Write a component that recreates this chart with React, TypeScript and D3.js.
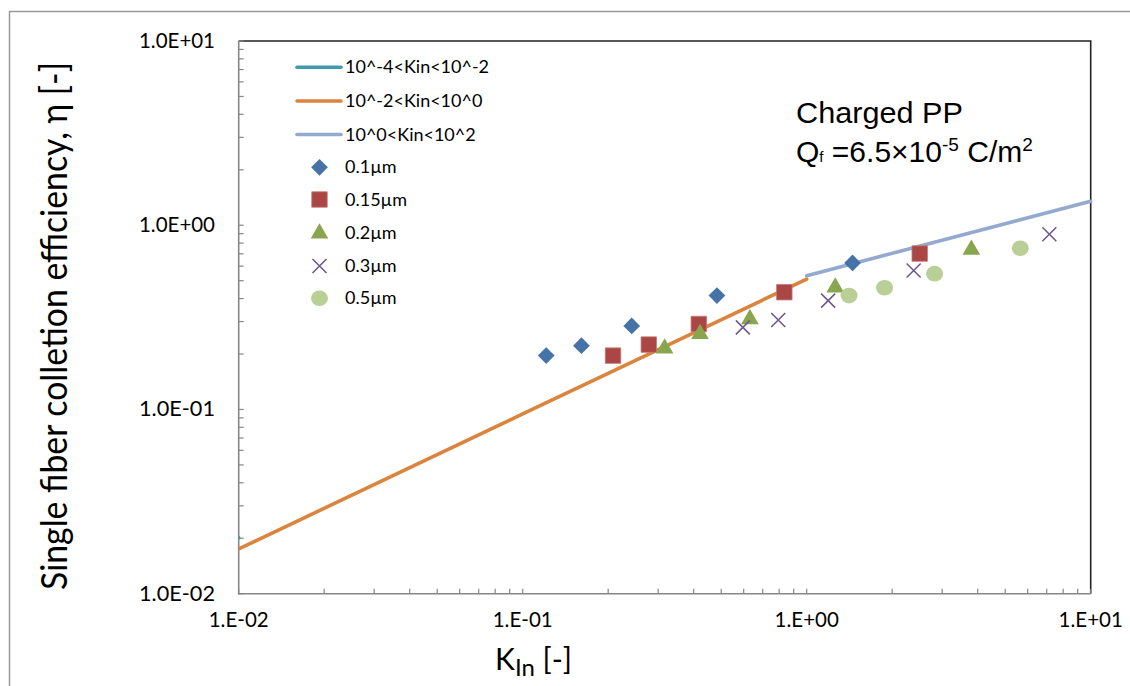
import React from "react";
import * as d3 from "d3";

// ---- data ----
const xTickValues = [0.01, 0.1, 1, 10];
const xTickLabels = ["1.E-02", "1.E-01", "1.E+00", "1.E+01"];
const yTickValues = [0.01, 0.1, 1, 10];
const yTickLabels = ["1.0E-02", "1.0E-01", "1.0E+00", "1.0E+01"];

// model lines
const lineLowKin = [1e-4, 0.01];
const lineLowEta = [0.003, 0.0201];
const lineMidKin = [0.01, 0.1, 1];
const lineMidEta = [0.0175, 0.0945, 0.51];
const lineHighKin = [1, 10];
const lineHighEta = [0.532, 1.35];

// measured points
const kin01 = [0.121, 0.161, 0.242, 0.483, 1.45];
const eta01 = [0.196, 0.222, 0.284, 0.415, 0.624];
const kin015 = [0.208, 0.278, 0.417, 0.834, 2.5];
const eta015 = [0.196, 0.225, 0.291, 0.433, 0.702];
const kin02 = [0.316, 0.421, 0.631, 1.26, 3.8];
const eta02 = [0.217, 0.26, 0.313, 0.465, 0.746];
const kin03 = [0.596, 0.794, 1.19, 2.38, 7.15];
const eta03 = [0.279, 0.306, 0.39, 0.568, 0.893];
const kin05 = [1.41, 1.88, 2.82, 5.65];
const eta05 = [0.415, 0.458, 0.546, 0.75];

const lineNames = ["10^-4<Kin<10^-2", "10^-2<Kin<10^0", "10^0<Kin<10^2"];
const pointNames = ["0.1µm", "0.15µm", "0.2µm", "0.3µm", "0.5µm"];

const C = {
  cyan: "#4198AF",
  orange: "#DB843D",
  lblue: "#93A9CF",
  diamond: "#4572A7",
  square: "#AA4643",
  tri: "#89A54E",
  x: "#71588F",
  circ: "#B9CF96",
};

const L = 238.7, R = 1090.7, T = 41, B = 593.7;
const FONT = "Lato, 'Open Sans', sans-serif";
const ARIAL = "'Liberation Sans', Arial, sans-serif";

function Marker({ kind, cx, cy }: { kind: string; cx: number; cy: number }) {
  if (kind === "diamond") {
    const p = d3.symbol(d3.symbolSquare, 140)();
    return <path d={p || ""} transform={`translate(${cx},${cy}) rotate(45)`} fill={C.diamond} />;
  }
  if (kind === "square") {
    const p = d3.symbol(d3.symbolSquare, 240)();
    return <path d={p || ""} transform={`translate(${cx},${cy})`} fill={C.square} stroke="#C47A78" strokeWidth={0.8} />;
  }
  if (kind === "tri") {
    const p = d3.symbol(d3.symbolTriangle, 135)();
    return <path d={p || ""} transform={`translate(${cx},${cy + 1})`} fill={C.tri} />;
  }
  if (kind === "x") {
    const s = 7;
    return (
      <path
        d={`M${-s},${-s}L${s},${s}M${-s},${s}L${s},${-s}`}
        transform={`translate(${cx},${cy})`}
        stroke={C.x}
        strokeWidth={1.6}
        fill="none"
      />
    );
  }
  return <ellipse cx={cx} cy={cy} rx={8.5} ry={7.8} fill={C.circ} />;
}

export default function App() {
  const x = d3.scaleLog().domain([0.01, 10]).range([L, R]);
  const y = d3.scaleLog().domain([0.01, 10]).range([B, T]);

  const line = d3
    .line<[number, number]>()
    .x((d) => x(d[0]))
    .y((d) => y(d[1]));
  const zip = (a: number[], b: number[]) => a.map((v, i) => [v, b[i]] as [number, number]);

  const minorX: number[] = [];
  const minorY: number[] = [];
  for (let e = -2; e < 1; e++) {
    for (let m = 1; m <= 9; m++) {
      minorX.push(m * Math.pow(10, e));
      minorY.push(m * Math.pow(10, e));
    }
  }
  minorX.push(10);
  minorY.push(10);

  const series = [
    { kind: "diamond", k: kin01, e: eta01 },
    { kind: "square", k: kin015, e: eta015 },
    { kind: "tri", k: kin02, e: eta02 },
    { kind: "x", k: kin03, e: eta03 },
    { kind: "circ", k: kin05, e: eta05 },
  ];
  const lines = [
    { c: C.cyan, d: zip(lineLowKin, lineLowEta) },
    { c: C.orange, d: zip(lineMidKin, lineMidEta) },
    { c: C.lblue, d: zip(lineHighKin, lineHighEta) },
  ];

  const legendLineY = [67.3, 101, 134.5];
  const legendPtY = [167.3, 199.5, 232.5, 266, 298.3];

  return (
    <svg
      width={1130}
      height={686}
      style={{ position: "absolute", left: 0, top: 0, background: "#fff" }}
      fontFamily={FONT}
    >
      <rect x={0} y={0} width={1130} height={686} fill="#fff" />
      {/* outer frame */}
      <path d="M9.5,700V11.5H1140" fill="none" stroke="#9a9a9a" strokeWidth={1.5} />

      <defs>
        <clipPath id="plotclip">
          <rect x={L} y={T} width={R - L + 3} height={B - T} />
        </clipPath>
      </defs>

      {/* plot border top/right */}
      <path d={`M${L},${T}H${R}V${B}`} fill="none" stroke="#222" strokeWidth={1.6} />

      {/* axes */}
      <g stroke="#868686" strokeWidth={1.6}>
        <line x1={L} y1={T} x2={L} y2={B + 0.8} />
        <line x1={L - 0.8} y1={B} x2={R} y2={B} />
        {minorX.map((v, i) => (
          <line key={"mx" + i} x1={x(v)} x2={x(v)} y1={B} y2={B - 5} strokeWidth={1.2} />
        ))}
        {minorY.map((v, i) => (
          <line key={"my" + i} y1={y(v)} y2={y(v)} x1={L} x2={L + 5} strokeWidth={1.2} />
        ))}
      </g>

      {/* lines */}
      <g clipPath="url(#plotclip)">
        {lines.map((l, i) => (
          <path key={i} d={line(l.d) || ""} fill="none" stroke={l.c} strokeWidth={3.6} strokeLinecap="round" />
        ))}
      </g>

      {/* markers */}
      {series.map((s, si) =>
        s.k.map((kv, i) => <Marker key={si + "-" + i} kind={s.kind} cx={x(kv)} cy={y(s.e[i])} />)
      )}

      {/* tick labels */}
      {xTickValues.map((v, i) => (
        <text key={"xt" + i} x={x(v)} y={627} textAnchor="middle" fontSize={20.5} fill="#000">
          {xTickLabels[i]}
        </text>
      ))}
      {yTickValues.map((v, i) => (
        <text key={"yt" + i} x={215} y={y(v) + 7} textAnchor="end" fontSize={20.5} textLength={76} lengthAdjust="spacingAndGlyphs" fill="#000">
          {yTickLabels[i]}
        </text>
      ))}

      {/* axis titles */}
      <text
        transform={`translate(67,326) rotate(-90)`}
        textAnchor="middle"
        fontSize={36}
        textLength={528}
        lengthAdjust="spacingAndGlyphs"
        fill="#000"
      >
        Single fiber colletion efficiency, η [-]
      </text>
      <text x={495} y={670} fontSize={30} fill="#000">
        K
        <tspan dy={6} fontSize={24}>In</tspan>
        <tspan dy={-6} fontSize={30}> [-]</tspan>
      </text>

      {/* legend */}
      {lineNames.map((n, i) => (
        <g key={"ll" + i}>
          <line x1={297} x2={341} y1={legendLineY[i]} y2={legendLineY[i]} stroke={lines[i].c} strokeWidth={3.6} strokeLinecap="round" />
          <text x={345} y={legendLineY[i] + 6} fontSize={18} fill="#000">
            {n}
          </text>
        </g>
      ))}
      {pointNames.map((n, i) => (
        <g key={"lp" + i}>
          <Marker kind={series[i].kind} cx={319.5} cy={legendPtY[i]} />
          <text x={345} y={legendPtY[i] + 6} fontSize={18} fill="#000">
            {n}
          </text>
        </g>
      ))}

      {/* annotation */}
      <text x={796} y={123} fontFamily={ARIAL} fontSize={29} textLength={167} lengthAdjust="spacingAndGlyphs" fill="#000">
        Charged PP
      </text>
      <text x={796} y={162} fontFamily={ARIAL} fontSize={30} fill="#000">
        Q<tspan fontSize={15}>f</tspan>
        <tspan> =6.5×10</tspan>
        <tspan dy={-11} fontSize={19}>-5</tspan>
        <tspan dy={11}> C/m</tspan>
        <tspan dy={-11} fontSize={19}>2</tspan>
      </text>
    </svg>
  );
}
